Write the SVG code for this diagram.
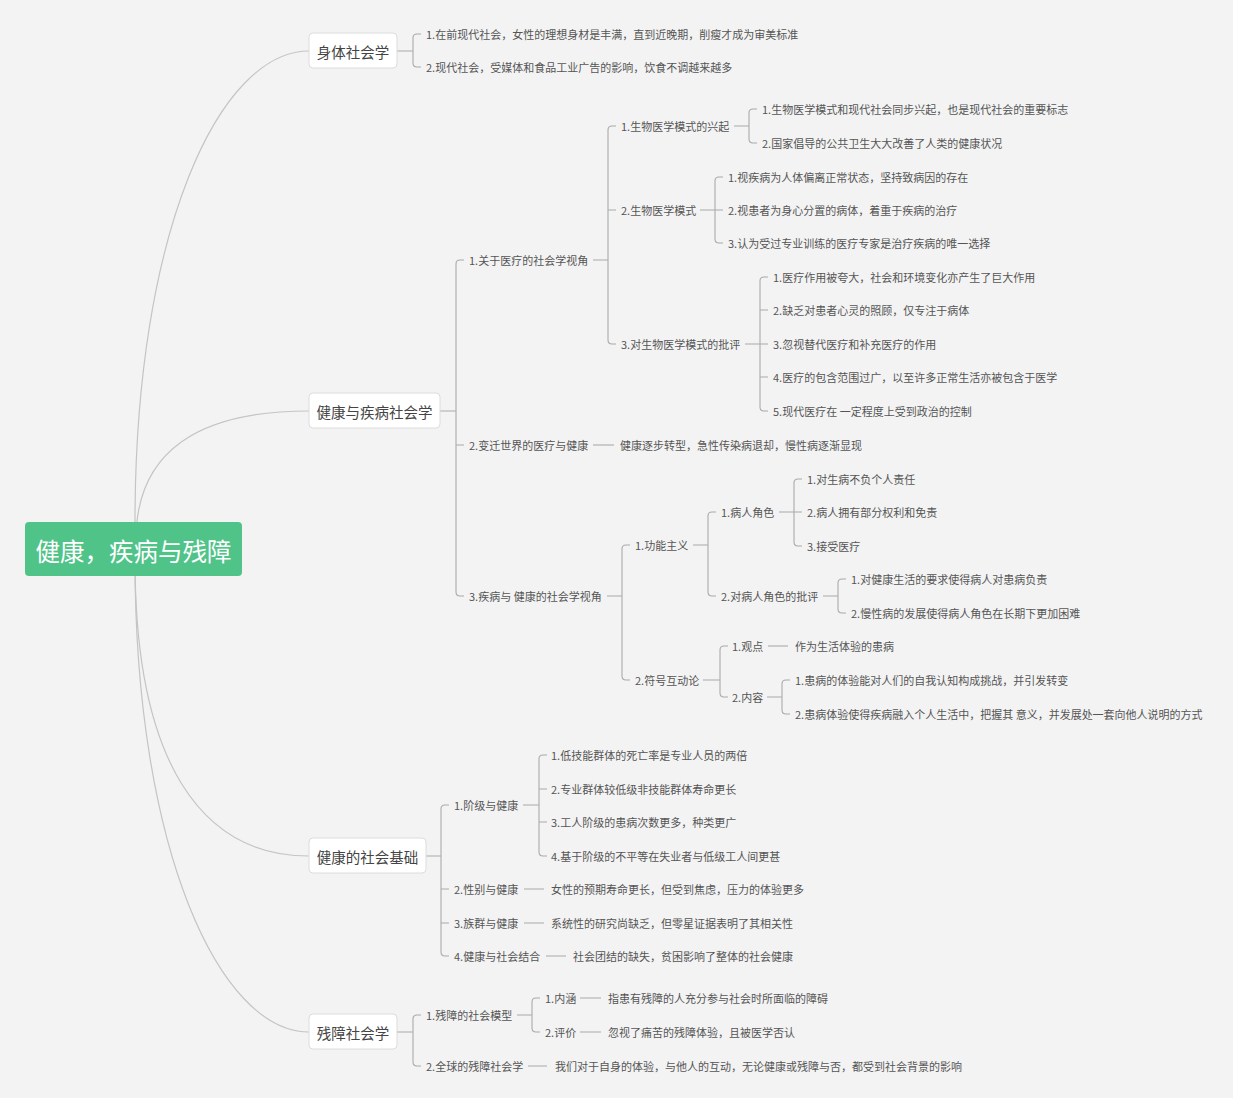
<svg xmlns="http://www.w3.org/2000/svg" width="1240" height="1105" viewBox="0 0 1240 1105">
<style>
text{font-family:"Noto Sans CJK SC","Noto Sans",sans-serif;dominant-baseline:central}
.t{font-size:11px;fill:#555}
.m{font-size:14.5px;fill:#444;text-anchor:middle}
.r{font-size:24.5px;fill:#fff;text-anchor:middle}
.box{fill:#fff;stroke:#dcdcdc;stroke-width:1}
.curve{fill:none;stroke:#c4c4c4;stroke-width:1.2}
.ln{fill:none;stroke:#aaa;stroke-width:1.1}
</style>
<rect x="0" y="0" width="1240" height="1105" fill="#fff"/>
<rect x="0" y="0" width="1233" height="1098" fill="#f3f3f3"/>
<g id="connectors">
<path class="curve" d="M135,522 C135,230 220,51 309,51"/>
<path class="curve" d="M136,540 C136,450 200,411 309,411"/>
<path class="curve" d="M135,560 C135,760 200,856 309,856"/>
<path class="curve" d="M135,560 C135,850 220,1032 309,1032"/>
<path class="ln" d="M397,51 H413 M421,34 H417 Q413,34 413,38 V63 Q413,67 417,67 H421"/>
<path class="ln" d="M440,411 H456 M464,260 H460 Q456,260 456,264 V592 Q456,596 460,596 H464 M456,445 H464"/>
<path class="ln" d="M593,260 H608 M616,126 H612 Q608,126 608,130 V340 Q608,344 612,344 H616 M608,210 H616"/>
<path class="ln" d="M734,126 H749 M757,109 H753 Q749,109 749,113 V139 Q749,143 753,143 H757"/>
<path class="ln" d="M700,210 H715 M723,177 H719 Q715,177 715,181 V239 Q715,243 719,243 H723 M715,210 H723"/>
<path class="ln" d="M745,344 H760 M768,277 H764 Q760,277 760,281 V407 Q760,411 764,411 H768 M760,310 H768 M760,344 H768 M760,377 H768"/>
<path class="ln" d="M593,445 H614"/>
<path class="ln" d="M607,596 H622 M630,545 H626 Q622,545 622,549 V676 Q622,680 626,680 H630"/>
<path class="ln" d="M693,545 H708 M716,512 H712 Q708,512 708,516 V592 Q708,596 712,596 H716"/>
<path class="ln" d="M779,512 H794 M802,479 H798 Q794,479 794,483 V542 Q794,546 798,546 H802 M794,512 H802"/>
<path class="ln" d="M823,596 H838 M846,579 H842 Q838,579 838,583 V609 Q838,613 842,613 H846"/>
<path class="ln" d="M703,680 H720 M728,646 H724 Q720,646 720,650 V693 Q720,697 724,697 H728"/>
<path class="ln" d="M768,646 H788"/>
<path class="ln" d="M767,697 H782 M790,680 H786 Q782,680 782,684 V710 Q782,714 786,714 H790"/>
<path class="ln" d="M426,856 H441 M449,805 H445 Q441,805 441,809 V952 Q441,956 445,956 H449 M441,889 H449 M441,923 H449"/>
<path class="ln" d="M523,805 H539 M547,755 H543 Q539,755 539,759 V852 Q539,856 543,856 H547 M539,789 H547 M539,822 H547"/>
<path class="ln" d="M524,889 H544 M524,923 H544 M546,956 H566"/>
<path class="ln" d="M397,1032 H413 M421,1015 H417 Q413,1015 413,1019 V1062 Q413,1066 417,1066 H421"/>
<path class="ln" d="M517,1015 H532 M540,998 H536 Q532,998 532,1002 V1028 Q532,1032 536,1032 H540"/>
<path class="ln" d="M580,998 H601 M580,1032 H601 M528,1066 H547"/>
</g>
<g id="root">
<rect x="25" y="522" width="217" height="54" rx="4" fill="#50c389"/>
<text class="r" x="133.5" y="550">健康，疾病与残障</text>
</g>
<g id="n-body">
<rect class="box" x="309" y="33" width="88" height="35" rx="4"/>
<text class="m" x="353" y="51">身体社会学</text>
<text class="t" x="426" y="34">1.在前现代社会，女性的理想身材是丰满，直到近晚期，削瘦才成为审美标准</text>
<text class="t" x="426" y="67">2.现代社会，受媒体和食品工业广告的影响，饮食不调越来越多</text>
</g>
<g id="n-health">
<rect class="box" x="309" y="393" width="131" height="35" rx="4"/>
<text class="m" x="374.5" y="411">健康与疾病社会学</text>
<text class="t" x="469" y="260">1.关于医疗的社会学视角</text>
<text class="t" x="621" y="126">1.生物医学模式的兴起</text>
<text class="t" x="762" y="109">1.生物医学模式和现代社会同步兴起，也是现代社会的重要标志</text>
<text class="t" x="762" y="143">2.国家倡导的公共卫生大大改善了人类的健康状况</text>
<text class="t" x="621" y="210">2.生物医学模式</text>
<text class="t" x="728" y="177">1.视疾病为人体偏离正常状态，坚持致病因的存在</text>
<text class="t" x="728" y="210">2.视患者为身心分置的病体，着重于疾病的治疗</text>
<text class="t" x="728" y="243">3.认为受过专业训练的医疗专家是治疗疾病的唯一选择</text>
<text class="t" x="621" y="344">3.对生物医学模式的批评</text>
<text class="t" x="773" y="277">1.医疗作用被夸大，社会和环境变化亦产生了巨大作用</text>
<text class="t" x="773" y="310">2.缺乏对患者心灵的照顾，仅专注于病体</text>
<text class="t" x="773" y="344">3.忽视替代医疗和补充医疗的作用</text>
<text class="t" x="773" y="377">4.医疗的包含范围过广，以至许多正常生活亦被包含于医学</text>
<text class="t" x="773" y="411">5.现代医疗在 一定程度上受到政治的控制</text>
<text class="t" x="469" y="445">2.变迁世界的医疗与健康</text>
<text class="t" x="620" y="445">健康逐步转型，急性传染病退却，慢性病逐渐显现</text>
<text class="t" x="469" y="596">3.疾病与 健康的社会学视角</text>
<text class="t" x="635" y="545">1.功能主义</text>
<text class="t" x="721" y="512">1.病人角色</text>
<text class="t" x="807" y="479">1.对生病不负个人责任</text>
<text class="t" x="807" y="512">2.病人拥有部分权利和免责</text>
<text class="t" x="807" y="546">3.接受医疗</text>
<text class="t" x="721" y="596">2.对病人角色的批评</text>
<text class="t" x="851" y="579">1.对健康生活的要求使得病人对患病负责</text>
<text class="t" x="851" y="613">2.慢性病的发展使得病人角色在长期下更加困难</text>
<text class="t" x="635" y="680">2.符号互动论</text>
<text class="t" x="732" y="646">1.观点</text>
<text class="t" x="795" y="646">作为生活体验的患病</text>
<text class="t" x="732" y="697">2.内容</text>
<text class="t" x="795" y="680">1.患病的体验能对人们的自我认知构成挑战，并引发转变</text>
<text class="t" x="795" y="714">2.患病体验使得疾病融入个人生活中，把握其 意义，并发展处一套向他人说明的方式</text>
</g>
<g id="n-social">
<rect class="box" x="309" y="838" width="117" height="35" rx="4"/>
<text class="m" x="367.5" y="856">健康的社会基础</text>
<text class="t" x="454" y="805">1.阶级与健康</text>
<text class="t" x="551" y="755">1.低技能群体的死亡率是专业人员的两倍</text>
<text class="t" x="551" y="789">2.专业群体较低级非技能群体寿命更长</text>
<text class="t" x="551" y="822">3.工人阶级的患病次数更多，种类更广</text>
<text class="t" x="551" y="856">4.基于阶级的不平等在失业者与低级工人间更甚</text>
<text class="t" x="454" y="889">2.性别与健康</text>
<text class="t" x="551" y="889">女性的预期寿命更长，但受到焦虑，压力的体验更多</text>
<text class="t" x="454" y="923">3.族群与健康</text>
<text class="t" x="551" y="923">系统性的研究尚缺乏，但零星证据表明了其相关性</text>
<text class="t" x="454" y="956">4.健康与社会结合</text>
<text class="t" x="573" y="956">社会团结的缺失，贫困影响了整体的社会健康</text>
</g>
<g id="n-disability">
<rect class="box" x="309" y="1014" width="88" height="35" rx="4"/>
<text class="m" x="353" y="1032">残障社会学</text>
<text class="t" x="426" y="1015">1.残障的社会模型</text>
<text class="t" x="545" y="998">1.内涵</text>
<text class="t" x="608" y="998">指患有残障的人充分参与社会时所面临的障碍</text>
<text class="t" x="545" y="1032">2.评价</text>
<text class="t" x="608" y="1032">忽视了痛苦的残障体验，且被医学否认</text>
<text class="t" x="426" y="1066">2.全球的残障社会学</text>
<text class="t" x="555" y="1066">我们对于自身的体验，与他人的互动，无论健康或残障与否，都受到社会背景的影响</text>
</g>
</svg>
